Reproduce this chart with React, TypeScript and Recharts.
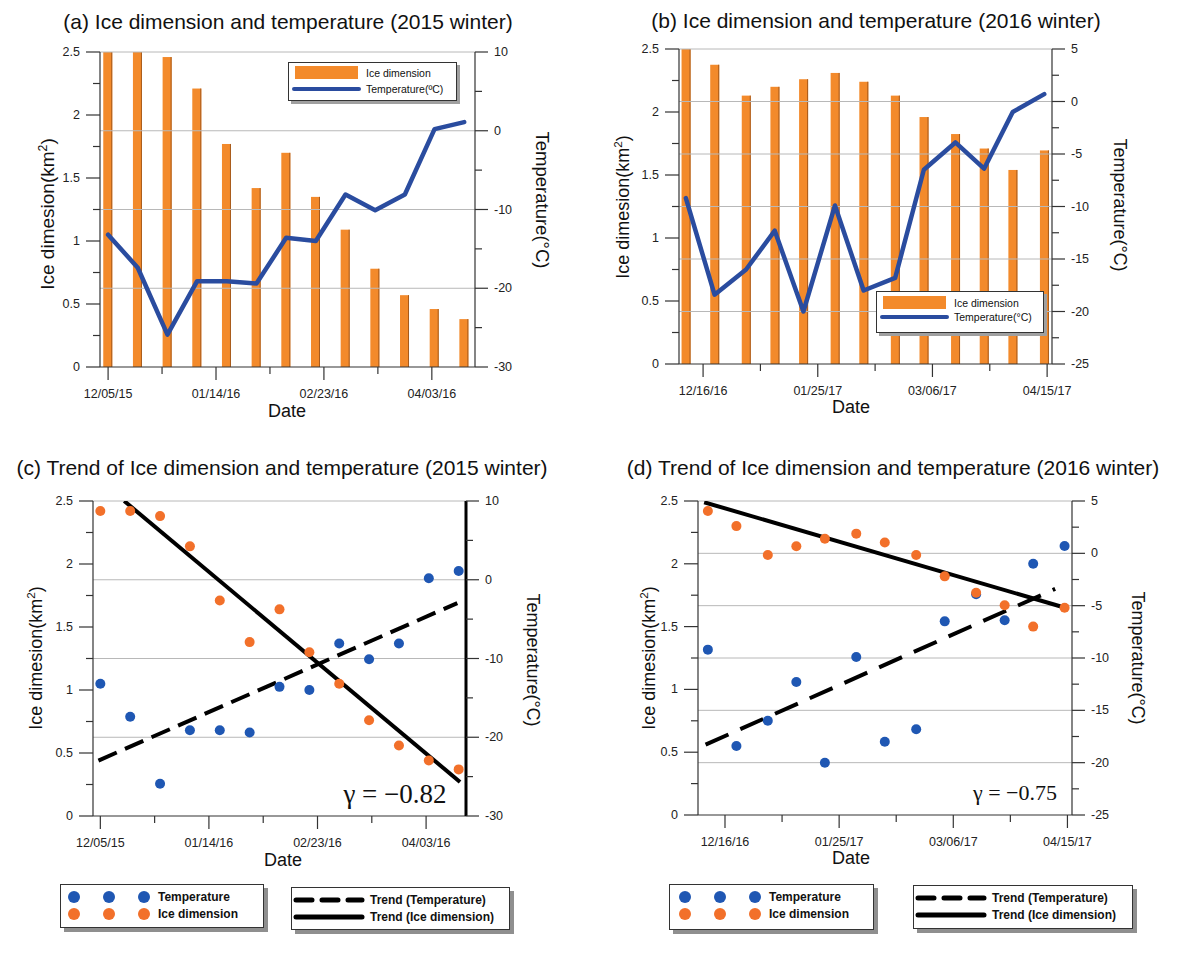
import React from 'react'
import {
  ComposedChart,
  Bar,
  Line,
  Scatter,
  XAxis,
  YAxis,
  ReferenceLine,
} from 'recharts'

const FONT = '"Liberation Sans", Arial, Helvetica, sans-serif'
const SERIF = '"Liberation Serif", "Times New Roman", serif'
const ORANGE_BAR = '#f38a2b'
const ORANGE_DOT = '#f2702a'
const BLUE_LINE = '#2a4c9f'
const BLUE_DOT = '#1f57b3'
const AXIS = '#333'
const GRID = '#b8b8b8'

// 2015 winter, days counted from 12/05/15
const days2015 = [0, 11, 22, 33, 44, 55, 66, 77, 88, 99, 110, 121, 132]
const ice2015 = [2.5, 2.5, 2.46, 2.21, 1.77, 1.42, 1.7, 1.35, 1.09, 0.78, 0.57, 0.46, 0.38]
const temp2015 = [-13.2, -17.4, -25.9, -19.1, -19.1, -19.4, -13.6, -14.0, -8.1, -10.1, -8.1, 0.2, 1.1]
const iceDots2015 = [2.42, 2.42, 2.38, 2.14, 1.71, 1.38, 1.64, 1.3, 1.05, 0.76, 0.56, 0.44, 0.37]
const trendIce2015 = [{ day: 8.8, v: 2.5 }, { day: 132.5, v: 0.27 }]
const trendTemp2015 = [{ day: -0.7, v: 0.44 }, { day: 131.5, v: 1.69 }]

// 2016 winter, days counted from 12/16/16
const days2016 = [-6, 4, 15, 25, 35, 46, 56, 67, 77, 88, 98, 108, 119]
const ice2016 = [2.5, 2.375, 2.13, 2.2, 2.26, 2.31, 2.24, 2.13, 1.96, 1.825, 1.71, 1.54, 1.695]
const temp2016 = [-9.2, -18.4, -16.0, -12.3, -20.0, -9.9, -18.0, -16.8, -6.5, -3.9, -6.4, -1.0, 0.7]
const iceDots2016 = [2.42, 2.3, 2.07, 2.14, 2.2, 2.24, 2.17, 2.07, 1.9, 1.77, 1.67, 1.5, 1.65]
const trendIce2016 = [{ day: -7.3, v: 2.49 }, { day: 117.7, v: 1.66 }]
const trendTemp2016 = [{ day: -6.8, v: 0.56 }, { day: 115.7, v: 1.8 }]

// axes
const xTicks = [0, 20, 40, 60, 80, 100, 120]
const xLabels2015 = ['12/05/15', '', '01/14/16', '', '02/23/16', '', '04/03/16']
const xLabels2016 = ['12/16/16', '', '01/25/17', '', '03/06/17', '', '04/15/17']
const iceTicks = [0, 0.25, 0.5, 0.75, 1, 1.25, 1.5, 1.75, 2, 2.25, 2.5]
const tempTicks2015 = [-30, -25, -20, -15, -10, -5, 0, 5, 10]
const tempTicks2016 = [-25, -22.5, -20, -17.5, -15, -12.5, -10, -7.5, -5, -2.5, 0, 2.5, 5]
const grid2015 = [10, 0, -10, -20]
const grid2016 = [5, 0, -5, -10, -15, -20]

const rows2015 = days2015.map((day, i) => ({
  day,
  ice: ice2015[i],
  temp: temp2015[i],
  iceDot: iceDots2015[i],
}))
const rows2016 = days2016.map((day, i) => ({
  day,
  ice: ice2016[i],
  temp: temp2016[i],
  iceDot: iceDots2016[i],
}))

const tickText = { fontSize: 12.5, fill: '#222', fontFamily: FONT }

function LeftTick({ x, y, payload }: any) {
  const v = payload.value
  const major = Math.abs(v * 2 - Math.round(v * 2)) < 1e-6
  const len = major ? 14 : 7
  return (
    <g>
      <line x1={x - len} x2={x} y1={y} y2={y} stroke={AXIS} strokeWidth={1.2} />
      {major && (
        <text x={x - 20} y={y} textAnchor="end" dominantBaseline="central" {...tickText}>
          {v}
        </text>
      )}
    </g>
  )
}

const makeRightTick = (step: number) =>
  function RightTick({ x, y, payload }: any) {
    const v = payload.value
    const major = Math.abs(v / step - Math.round(v / step)) < 1e-6
    const len = major ? 13 : 7
    return (
      <g>
        <line x1={x} x2={x + len} y1={y} y2={y} stroke={AXIS} strokeWidth={1.2} />
        {major && (
          <text x={x + 19} y={y} textAnchor="start" dominantBaseline="central" {...tickText}>
            {v}
          </text>
        )}
      </g>
    )
  }

const makeBottomTick = (labels: string[]) =>
  function BottomTick({ x, y, payload }: any) {
    const label = labels[xTicks.indexOf(payload.value)] || ''
    const len = label ? 13 : 7
    return (
      <g>
        <line x1={x} x2={x} y1={y} y2={y + len} stroke={AXIS} strokeWidth={1.2} />
        {label && (
          <text x={x} y={y + 27} textAnchor="middle" dominantBaseline="central" {...tickText}>
            {label}
          </text>
        )}
      </g>
    )
  }

function BarShape({ x, y, width, height }: any) {
  if (!height) return null
  return (
    <g>
      <rect x={x} y={y} width={width} height={height} fill={ORANGE_BAR} />
      <line x1={x + width - 0.5} x2={x + width - 0.5} y1={y} y2={y + height} stroke="#a65a1c" strokeWidth={1} />
    </g>
  )
}

const dot = (fill: string) =>
  function Dot({ cx, cy }: any) {
    return <circle cx={cx} cy={cy} r={5} fill={fill} />
  }

function BarPanel({ left, top, mTop, leftW, rightW, xH, rows, xDomain, xLabels, tDomain, tTicks, tStep, grid }: any) {
  return (
    <div style={{ position: 'absolute', left, top }}>
      <ComposedChart width={593} height={440} data={rows} margin={{ top: mTop, right: 0, bottom: 0, left: 0 }}>
        <XAxis
          dataKey="day"
          type="number"
          domain={xDomain}
          allowDataOverflow
          ticks={xTicks}
          interval={0}
          height={xH}
          tickSize={0}
          tickMargin={0}
          tickLine={false}
          tick={makeBottomTick(xLabels)}
          axisLine={{ stroke: AXIS, strokeWidth: 1.2 }}
        />
        <YAxis
          yAxisId="ice"
          domain={[0, 2.5]}
          allowDataOverflow
          ticks={iceTicks}
          interval={0}
          width={leftW}
          tickSize={0}
          tickMargin={0}
          tickLine={false}
          tick={LeftTick}
          axisLine={{ stroke: AXIS, strokeWidth: 1.2 }}
        />
        <YAxis
          yAxisId="t"
          orientation="right"
          domain={tDomain}
          allowDataOverflow
          ticks={tTicks}
          interval={0}
          width={rightW}
          tickSize={0}
          tickMargin={0}
          tickLine={false}
          tick={makeRightTick(tStep)}
          axisLine={{ stroke: AXIS, strokeWidth: 1.2 }}
        />
        {grid.map((g: number) => (
          <ReferenceLine key={g} yAxisId="t" y={g} stroke={GRID} strokeWidth={1} />
        ))}
        <Bar yAxisId="ice" dataKey="ice" barSize={9} fill={ORANGE_BAR} shape={BarShape} isAnimationActive={false} />
        <Line
          yAxisId="t"
          dataKey="temp"
          type="linear"
          stroke={BLUE_LINE}
          strokeWidth={4.5}
          strokeLinejoin="round"
          strokeLinecap="round"
          dot={false}
          isAnimationActive={false}
        />
      </ComposedChart>
    </div>
  )
}

function TrendPanel({
  left, top, mTop, leftW, rightW, xH, rows, xDomain, xLabels, tDomain, tTicks, tStep, grid,
  trendIce, trendTemp, dash, rightAxisWidth,
}: any) {
  return (
    <div style={{ position: 'absolute', left, top }}>
      <ComposedChart width={593} height={425} data={rows} margin={{ top: mTop, right: 0, bottom: 0, left: 0 }}>
        <XAxis
          dataKey="day"
          type="number"
          domain={xDomain}
          allowDataOverflow
          ticks={xTicks}
          interval={0}
          height={xH}
          tickSize={0}
          tickMargin={0}
          tickLine={false}
          tick={makeBottomTick(xLabels)}
          axisLine={{ stroke: AXIS, strokeWidth: 1.2 }}
        />
        <YAxis
          yAxisId="ice"
          domain={[0, 2.5]}
          allowDataOverflow
          ticks={iceTicks}
          interval={0}
          width={leftW}
          tickSize={0}
          tickMargin={0}
          tickLine={false}
          tick={LeftTick}
          axisLine={{ stroke: AXIS, strokeWidth: 1.2 }}
        />
        <YAxis
          yAxisId="t"
          orientation="right"
          domain={tDomain}
          allowDataOverflow
          ticks={tTicks}
          interval={0}
          width={rightW}
          tickSize={0}
          tickMargin={0}
          tickLine={false}
          tick={makeRightTick(tStep)}
          axisLine={{ stroke: rightAxisWidth > 2 ? '#000' : AXIS, strokeWidth: rightAxisWidth }}
        />
        {grid.map((g: number) => (
          <ReferenceLine key={g} yAxisId="t" y={g} stroke={GRID} strokeWidth={1} />
        ))}
        <Line
          yAxisId="ice"
          data={trendIce}
          dataKey="v"
          type="linear"
          stroke="#000"
          strokeWidth={4}
          dot={false}
          isAnimationActive={false}
        />
        <Line
          yAxisId="ice"
          data={trendTemp}
          dataKey="v"
          type="linear"
          stroke="#000"
          strokeWidth={4}
          strokeDasharray={dash}
          dot={false}
          isAnimationActive={false}
        />
        <Scatter yAxisId="t" data={rows} dataKey="temp" shape={dot(BLUE_DOT)} isAnimationActive={false} />
        <Scatter yAxisId="ice" data={rows} dataKey="iceDot" shape={dot(ORANGE_DOT)} isAnimationActive={false} />
      </ComposedChart>
    </div>
  )
}

function Txt({ x, y, size = 18, rotate = 0, family = FONT, children }: any) {
  return (
    <div
      style={{
        position: 'absolute',
        left: x,
        top: y,
        transform: `translate(-50%, -50%) rotate(${rotate}deg)`,
        whiteSpace: 'nowrap',
        fontFamily: family,
        fontSize: size,
        lineHeight: 1,
        color: '#111',
      }}
    >
      {children}
    </div>
  )
}

const IceLabel = () => (
  <span>
    Ice dimesion(km<sup style={{ fontSize: '0.65em' }}>2</sup>)
  </span>
)

function PlotLegend({ left, top, w, h, rectY, lineY, tempLabel }: any) {
  const t = { fontSize: 10.5, fill: '#111', fontFamily: FONT, dominantBaseline: 'central' as const }
  return (
    <div
      style={{
        position: 'absolute', left, top, width: w, height: h, background: '#fff',
        border: '1px solid #333', boxShadow: '3px 3px 0 #a0a0a0', boxSizing: 'border-box',
      }}
    >
      <svg width={w} height={h} style={{ position: 'absolute', left: -1, top: -1 }}>
        <rect x={7} y={rectY} width={63} height={13} fill={ORANGE_BAR} />
        <line x1={6} x2={71} y1={lineY} y2={lineY} stroke={BLUE_LINE} strokeWidth={4} strokeLinecap="round" />
        <text x={78} y={rectY + 6.5} {...t}>Ice dimension</text>
        <text x={78} y={lineY} {...t}>{tempLabel}</text>
      </svg>
    </div>
  )
}

const boxStyle = (left: number, top: number, w: number, h: number): React.CSSProperties => ({
  position: 'absolute', left, top, width: w, height: h, background: '#fff',
  border: '1px solid #333', boxShadow: '4px 4px 0 #8f8f8f', boxSizing: 'border-box',
})
const legText = { fontSize: 12, fontWeight: 700, fill: '#111', fontFamily: FONT, dominantBaseline: 'central' as const }

function DotLegend({ left, top, w, h, dx }: any) {
  return (
    <div style={boxStyle(left, top, w, h)}>
      <svg width={w} height={h} style={{ position: 'absolute', left: -1, top: -1 }}>
        {[0, 35, 70].map((o) => (
          <g key={o}>
            <circle cx={dx + o} cy={13} r={6} fill={BLUE_DOT} />
            <circle cx={dx + o} cy={30} r={6} fill={ORANGE_DOT} />
          </g>
        ))}
        <text x={dx + 84} y={13} {...legText}>Temperature</text>
        <text x={dx + 84} y={30} {...legText}>Ice dimension</text>
      </svg>
    </div>
  )
}

function TrendLegend({ left, top, w, h, dash }: any) {
  return (
    <div style={boxStyle(left, top, w, h)}>
      <svg width={w} height={h} style={{ position: 'absolute', left: -1, top: -1 }}>
        <line x1={5} x2={71} y1={13} y2={13} stroke="#000" strokeWidth={5} strokeDasharray={dash} strokeLinecap="round" />
        <line x1={5} x2={71} y1={30} y2={30} stroke="#000" strokeWidth={5} strokeLinecap="round" />
        <text x={79} y={13} {...legText}>Trend (Temperature)</text>
        <text x={79} y={30} {...legText}>Trend (Ice dimension)</text>
      </svg>
    </div>
  )
}

export default function App() {
  return (
    <div
      style={{
        position: 'absolute', left: 0, top: 0, width: 1186, height: 954,
        background: '#fff', overflow: 'hidden', fontFamily: FONT,
      }}
    >
      {/* (a) */}
      <BarPanel
        left={0} top={0} mTop={52} leftW={100} rightW={118} xH={73}
        rows={rows2015} xDomain={[-3, 136]} xLabels={xLabels2015}
        tDomain={[-30, 10]} tTicks={tempTicks2015} tStep={10} grid={grid2015}
      />
      <PlotLegend left={288} top={62} w={169} h={39} rectY={4} lineY={27} tempLabel="Temperature(ºC)" />
      <Txt x={288} y={21} size={21}>(a) Ice dimension and temperature (2015 winter)</Txt>
      <Txt x={47} y={214} size={19} rotate={-90}><IceLabel /></Txt>
      <Txt x={542} y={200} size={18.5} rotate={90}>Temperature(°C)</Txt>
      <Txt x={287} y={411}>Date</Txt>

      {/* (b) */}
      <BarPanel
        left={593} top={0} mTop={49} leftW={86} rightW={134} xH={76}
        rows={rows2016} xDomain={[-8.4, 121.7]} xLabels={xLabels2016}
        tDomain={[-25, 5]} tTicks={tempTicks2016} tStep={5} grid={grid2016}
      />
      <PlotLegend left={876} top={291} w={168} h={42} rectY={5} lineY={26} tempLabel="Temperature(°C)" />
      <Txt x={876} y={20} size={21}>(b) Ice dimension and temperature (2016 winter)</Txt>
      <Txt x={622} y={207} rotate={-90}><IceLabel /></Txt>
      <Txt x={1120} y={205} rotate={90}>Temperature(°C)</Txt>
      <Txt x={851} y={407}>Date</Txt>

      {/* (c) */}
      <TrendPanel
        left={0} top={445} mTop={56} leftW={93} rightW={127} xH={54}
        rows={rows2015} xDomain={[-2.7, 134.7]} xLabels={xLabels2015}
        tDomain={[-30, 10]} tTicks={tempTicks2015} tStep={10} grid={grid2015}
        trendIce={trendIce2015} trendTemp={trendTemp2015} dash="20 9" rightAxisWidth={3}
      />
      <Txt x={282} y={467} size={21}>(c) Trend of Ice dimension and temperature (2015 winter)</Txt>
      <Txt x={35} y={658} rotate={-90}><IceLabel /></Txt>
      <Txt x={533} y={660} rotate={90}>Temperature(°C)</Txt>
      <Txt x={283} y={860}>Date</Txt>
      <Txt x={395} y={794} size={27} family={SERIF}>γ = −0.82</Txt>
      <DotLegend left={60} top={884} w={204} h={44} dx={14} />
      <TrendLegend left={291} top={887} w={219} h={43} dash="16 10" />

      {/* (d) */}
      <TrendPanel
        left={593} top={445} mTop={56} leftW={105} rightW={114} xH={55}
        rows={rows2016} xDomain={[-9.46, 121.6]} xLabels={xLabels2016}
        tDomain={[-25, 5]} tTicks={tempTicks2016} tStep={5} grid={grid2016}
        trendIce={trendIce2016} trendTemp={trendTemp2016} dash="25 13" rightAxisWidth={1.2}
      />
      <Txt x={893} y={467} size={21}>(d) Trend of Ice dimension and temperature (2016 winter)</Txt>
      <Txt x={648} y={658} rotate={-90}><IceLabel /></Txt>
      <Txt x={1138} y={658} rotate={90}>Temperature(°C)</Txt>
      <Txt x={851} y={858}>Date</Txt>
      <Txt x={1015} y={793} size={22} family={SERIF}>γ = −0.75</Txt>
      <DotLegend left={669} top={884} w={205} h={46} dx={16} />
      <TrendLegend left={913} top={885} w={220} h={44} dash="16 10" />
    </div>
  )
}
